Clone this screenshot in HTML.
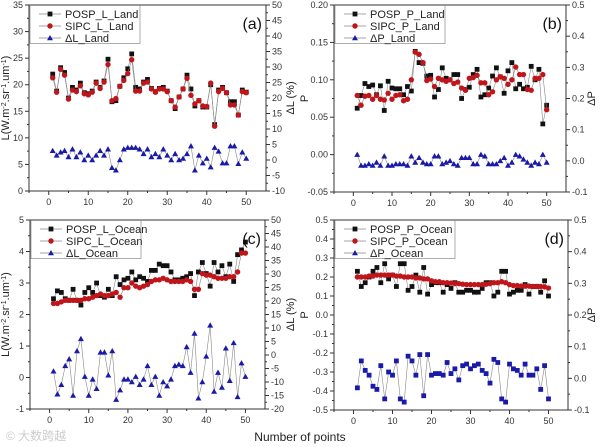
<!DOCTYPE html>
<html><head><meta charset="utf-8"><style>
body{margin:0;background:#fff;font-family:"Liberation Sans",sans-serif}
svg{display:block}
text{font-family:"Liberation Sans",sans-serif}
</style></head><body>
<svg id="c" width="600" height="447" viewBox="0 0 600 447"></svg>
<script>
const xs=[];for(let i=1;i<=50;i++)xs.push(i);
const xTicks=[0,10,20,30,40,50];
const aPosp=[22,18.8,23.2,22.3,17.5,19.5,19,20.3,18.5,18.3,18.8,20.5,19.5,20.7,24.8,16.8,17,19.7,21.3,23,25.8,19.5,19.2,20.5,21,19.3,18.7,19.3,19.5,18.8,17,15.5,17.7,19.2,21.8,19.2,16,17,15.8,15.8,20,12.5,19,19.5,18.5,16.8,16.8,14.3,19,18.6];
const aSipc=[21.3,18.6,22.9,21.8,17.3,19,18.7,19.8,18.3,18.1,18.6,20.3,19.3,20.5,23.8,17,17.4,19.7,20.8,22.1,24.7,18.8,18.8,20.3,20.5,19.2,18.6,19.2,19.2,18.7,17,15.8,17.7,19.2,21.2,18,16.4,17,16,15.9,20.3,12.2,18.7,19.3,18.5,16.2,16.2,14.3,18.7,18.5];
const aDelta=[3,1.5,2.5,3,1,3.5,1,2.5,0,1.5,0,1.5,3,1.5,3.5,-2.5,-3.3,0,3.5,4,4,4,3.5,2,3.5,1,2,1,3.5,1.5,0,2,0,0.5,2,4.5,-3.3,1.5,-1,0.5,-2.3,4,2.8,-1,-1,4.5,4.5,-1.2,2.5,0.5];
const bPosp=[0.062,0.079,0.095,0.091,0.093,0.08,0.092,0.059,0.098,0.089,0.088,0.088,0.08,0.091,0.085,0.138,0.123,0.122,0.105,0.106,0.077,0.087,0.116,0.102,0.1,0.107,0.107,0.075,0.087,0.09,0.107,0.114,0.077,0.08,0.089,0.105,0.116,0.104,0.082,0.112,0.123,0.088,0.094,0.088,0.09,0.118,0.1,0.114,0.041,0.066];
const bSipc=[0.079,0.066,0.078,0.079,0.074,0.079,0.074,0.073,0.082,0.074,0.079,0.08,0.072,0.074,0.1,0.137,0.134,0.123,0.099,0.101,0.091,0.102,0.1,0.098,0.1,0.095,0.097,0.089,0.086,0.102,0.103,0.106,0.096,0.096,0.08,0.084,0.1,0.104,0.102,0.094,0.1,0.117,0.107,0.107,0.087,0.086,0.102,0.102,0.107,0.06];
const bDelta=[0.02,-0.015,-0.015,-0.01,-0.015,-0.005,-0.015,0.015,-0.015,-0.015,-0.01,-0.01,-0.01,-0.015,0.015,-0.005,0.01,-0.005,-0.01,-0.01,0.015,0.015,-0.01,-0.005,0,-0.01,-0.015,0.01,0.01,0.01,-0.01,-0.01,0.02,0.015,-0.01,-0.01,-0.01,0,0.01,-0.015,-0.005,0.02,0.015,0.005,-0.005,-0.015,-0.005,-0.01,0.02,-0.005];
const cPosp=[2.5,2.75,2.7,2.5,2.45,2.8,2.45,2.3,2.7,2.85,2.7,3.0,2.6,2.55,2.8,2.6,3.2,2.95,3.1,3.15,3.35,3.1,3.2,3.15,3.05,3.4,3.4,3.6,3.55,3.55,3.35,3.1,3.1,3.15,3.2,3.3,2.6,3.35,3.65,3.3,2.9,3.65,3.35,3.55,3.2,3.6,3.05,3.9,4.05,4.3];
const cSipc=[2.35,2.35,2.4,2.45,2.45,2.45,2.45,2.45,2.5,2.5,2.55,2.6,2.65,2.6,2.6,2.65,2.7,2.55,2.85,2.85,3.0,2.9,2.85,2.9,2.95,3.05,3.1,3.1,3.15,3.1,3.05,3.05,3.05,3.05,3.1,3.05,2.8,2.8,3.3,3.25,3.25,3.2,3.15,3.15,3.15,3.2,3.2,3.35,3.95,3.95];
const cDelta=[-6,-14.5,-11,-4,-1.5,-15,1.5,6,-8,-15,-9,-12.5,1,1,-7.5,1.5,-16.5,-13,-9,-9,-10,-8,-11,-9,-4,-11,-8,-15,-10,-11.5,-9,-4,-3.5,-4,3,-6.5,8,-16,-10,-0.5,11,-13.5,-6.5,-12,2.5,-9.5,4.5,-15.5,-3,-8];
const dPosp=[0.23,0.15,0.17,0.2,0.23,0.25,0.17,0.27,0.19,0.21,0.15,0.27,0.27,0.13,0.15,0.21,0.12,0.25,0.11,0.16,0.17,0.17,0.12,0.16,0.14,0.17,0.12,0.12,0.13,0.13,0.12,0.12,0.14,0.17,0.17,0.1,0.12,0.23,0.23,0.11,0.12,0.13,0.13,0.16,0.11,0.15,0.15,0.12,0.18,0.1];
const dSipc=[0.2,0.2,0.2,0.205,0.205,0.21,0.21,0.21,0.21,0.21,0.205,0.205,0.2,0.2,0.2,0.195,0.195,0.19,0.19,0.18,0.175,0.175,0.17,0.17,0.168,0.165,0.165,0.162,0.16,0.16,0.16,0.16,0.16,0.162,0.165,0.17,0.17,0.175,0.17,0.16,0.155,0.155,0.152,0.152,0.152,0.15,0.15,0.15,0.148,0.142];
const dDelta=[-0.03,0.055,0.025,0.01,-0.025,-0.035,0.04,-0.065,0.02,0.01,0.055,-0.065,-0.075,0.07,0.055,0.01,0.075,-0.055,0.075,0.01,0.015,0.015,0.01,0.05,0.015,0.03,-0.005,0.04,0.045,0.03,0.04,0.045,0.025,0.015,-0.015,0.06,0.05,-0.065,-0.075,0.045,0.03,0.025,0.01,0.045,0.01,0.01,0.03,-0.035,0.04,-0.065];

const NS="http://www.w3.org/2000/svg";
const svg=document.getElementById('c');
function mk(tag,attrs,parent,txt){const e=document.createElementNS(NS,tag);for(const k in attrs)e.setAttribute(k,attrs[k]);if(txt!==undefined)e.textContent=txt;(parent||svg).appendChild(e);return e;}
function drawMarker(g,shape,x,y,c){
  if(shape==='sq'||shape==='sq2')mk('rect',{x:x-2.4,y:y-2.4,width:4.8,height:4.8,fill:c},g);
  else if(shape==='ci')mk('circle',{cx:x,cy:y,r:2.7,fill:c},g);
  else mk('polygon',{points:`${x},${y-3} ${x+3},${y+2.3} ${x-3},${y+2.3}`,fill:c},g);
}
function panel(p){
  const g=mk('g',{});
  
  
  const X=v=>p.l+(v-(-5))/60*(p.r-p.l);
  const YL=v=>p.b-(v-p.lmin)/(p.lmax-p.lmin)*(p.b-p.t);
  const YR=v=>p.b-(v-p.rmin)/(p.rmax-p.rmin)*(p.b-p.t);
  mk('rect',{x:p.l,y:p.t,width:p.r-p.l,height:p.b-p.t,fill:'none',stroke:'#333','stroke-width':1},g);
  xTicks.forEach(v=>{const x=X(v);mk('line',{x1:x,y1:p.b,x2:x,y2:p.b+4,stroke:'#333'},g);
    const t=mk('text',{x:x,y:p.b+14,'font-size':9,'text-anchor':'middle',fill:'#333'},g,v);
    
    const xm=X(v+5);if(v<50){mk('line',{x1:xm,y1:p.b,x2:xm,y2:p.b+2,stroke:'#333'},g);}
  });
  mk('line',{x1:X(-5),y1:p.b,x2:X(-5),y2:p.b+2,stroke:'#333'},g);
  p.lticks.forEach(v=>{const y=YL(v);mk('line',{x1:p.l-4,y1:y,x2:p.l,y2:y,stroke:'#333'},g);
    const t=mk('text',{x:p.l-6,y:y+3,'font-size':9,'text-anchor':'end',fill:'#333'},g,p.lfmt(v));
    });
  for(let i=0;i<p.lticks.length-1;i++){const y=(YL(p.lticks[i])+YL(p.lticks[i+1]))/2;mk('line',{x1:p.l-2,y1:y,x2:p.l,y2:y,stroke:'#333'},g);}
  p.rticks.forEach(v=>{const y=YR(v);mk('line',{x1:p.r,y1:y,x2:p.r+4,y2:y,stroke:'#333'},g);
    const t=mk('text',{x:p.r+6,y:y+3,'font-size':9,'text-anchor':'start',fill:'#333'},g,p.rfmt(v));
    });
  for(let i=0;i<p.rticks.length-1;i++){const y=(YR(p.rticks[i])+YR(p.rticks[i+1]))/2;mk('line',{x1:p.r,y1:y,x2:p.r+2,y2:y,stroke:'#333'},g);}
  function series(vals,Y,shape,color,name){
    const sg=mk('g',{},g);
    
    mk('polyline',{points:vals.map((v,i)=>X(xs[i])+','+Y(v)).join(' '),fill:'none',stroke:'#888','stroke-width':0.6},sg);
    vals.forEach((v,i)=>drawMarker(sg,shape,X(xs[i]),Y(v),color));
  }
  series(p.s1,YL,'sq','#111',p.n1.toLowerCase().replace(/_/g,'-')+'-series');
  series(p.s2,YL,'ci','#c0161b',p.n2.toLowerCase().replace(/_/g,'-')+'-series');
  series(p.s3,YR,p.s3shape,'#1a1aa8','delta-series');
  const lg=mk('g',{},g);
  mk('rect',{x:p.l+1,y:p.t+0.5,width:p.legW,height:38,fill:'#fff',stroke:'#999','stroke-width':0.8},lg);
  [[p.n1,'sq','#111'],[p.n2,'ci','#c0161b'],[p.n3,'tri','#1a1aa8']].forEach((e,i)=>{
    const y=p.t+9+i*12;
    mk('line',{x1:p.l+10,y1:y,x2:p.l+32,y2:y,stroke:'#888','stroke-width':0.8},lg);
    drawMarker(lg,e[1],p.l+21,y,e[2]);
    const t=mk('text',{x:p.l+36,y:y+4,'font-size':11,fill:'#222'},lg,e[0]);
    
  });
  const pt=mk('text',{x:p.r-4,y:p.t+24,'font-size':16,'text-anchor':'end',fill:'#111'},g,p.letter);
  
  const lt=mk('text',{x:0,y:0,'font-size':11,'text-anchor':'middle',fill:'#222',transform:`translate(${p.ltx},${(p.t+p.b)/2}) rotate(-90)`},g);
  lt.innerHTML=p.ltitle;
  const rt=mk('text',{x:0,y:0,'font-size':11,'text-anchor':'middle',fill:'#222',transform:`translate(${p.rtx},${(p.t+p.b)/2}) rotate(-90)`},g,p.rtitle);
  
}
const f0=v=>String(v), f2=v=>v.toFixed(2), f1=v=>v.toFixed(1);
const L='L(W.m<tspan baseline-shift="super" font-size="7">-2</tspan>.sr<tspan baseline-shift="super" font-size="7">-1</tspan>.um<tspan baseline-shift="super" font-size="7">-1</tspan>)';
panel({id:'a',l:29,r:266,t:5,b:191,lmin:0,lmax:35,rmin:-10,rmax:50,lticks:[0,5,10,15,20,25,30,35],rticks:[-10,-5,0,5,10,15,20,25,30,35,40,45,50],lfmt:f0,rfmt:f0,
 s1:aPosp,s2:aSipc,s3:aDelta,s3shape:'tri',n1:'POSP_L_Land',n2:'SIPC_L_Land',n3:'ΔL_Land',legW:110,letter:'(a)',ltitle:L,rtitle:'ΔL (%)',ltx:9,rtx:294});
panel({id:'b',l:334,r:566,t:5,b:192,lmin:-0.05,lmax:0.2,rmin:-0.1,rmax:0.5,lticks:[-0.05,0,0.05,0.1,0.15,0.2],rticks:[-0.1,0,0.1,0.2,0.3,0.4,0.5],lfmt:f2,rfmt:f1,
 s1:bPosp,s2:bSipc,s3:bDelta,s3shape:'tri',n1:'POSP_P_Land',n2:'SIPC_P_Land',n3:'ΔP_Land',legW:110,letter:'(b)',ltitle:'P',rtitle:'ΔP',ltx:308,rtx:595});
panel({id:'c',l:30,r:265,t:220,b:409,lmin:-1,lmax:5,rmin:-20,rmax:50,lticks:[-1,0,1,2,3,4,5],rticks:[-20,-15,-10,-5,0,5,10,15,20,25,30,35,40,45,50],lfmt:f0,rfmt:f0,
 s1:cPosp,s2:cSipc,s3:cDelta,s3shape:'tri',n1:'POSP_L_Ocean',n2:'SIPC_L_Ocean',n3:'ΔL_Ocean',legW:110,letter:'(c)',ltitle:L,rtitle:'ΔL (%)',ltx:9,rtx:294});
panel({id:'d',l:334,r:568,t:220,b:410,lmin:-0.5,lmax:0.5,rmin:-0.1,rmax:0.5,lticks:[-0.5,-0.4,-0.3,-0.2,-0.1,0,0.1,0.2,0.3,0.4,0.5],rticks:[-0.1,0,0.1,0.2,0.3,0.4,0.5],lfmt:f1,rfmt:f1,
 s1:dPosp,s2:dSipc,s3:dDelta,s3shape:'sq2',n1:'POSP_P_Ocean',n2:'SIPC_P_Ocean',n3:'ΔP_Ocean',legW:120,letter:'(d)',ltitle:'P',rtitle:'ΔP',ltx:308,rtx:595});
const xt=mk('text',{x:300,y:441,'font-size':12,'text-anchor':'middle',fill:'#222'},svg,'Number of points');


const wm=mk('text',{x:6,y:440,'font-size':12,fill:'#ccc'},svg,'© 大数跨越');


</script>
</body></html>
